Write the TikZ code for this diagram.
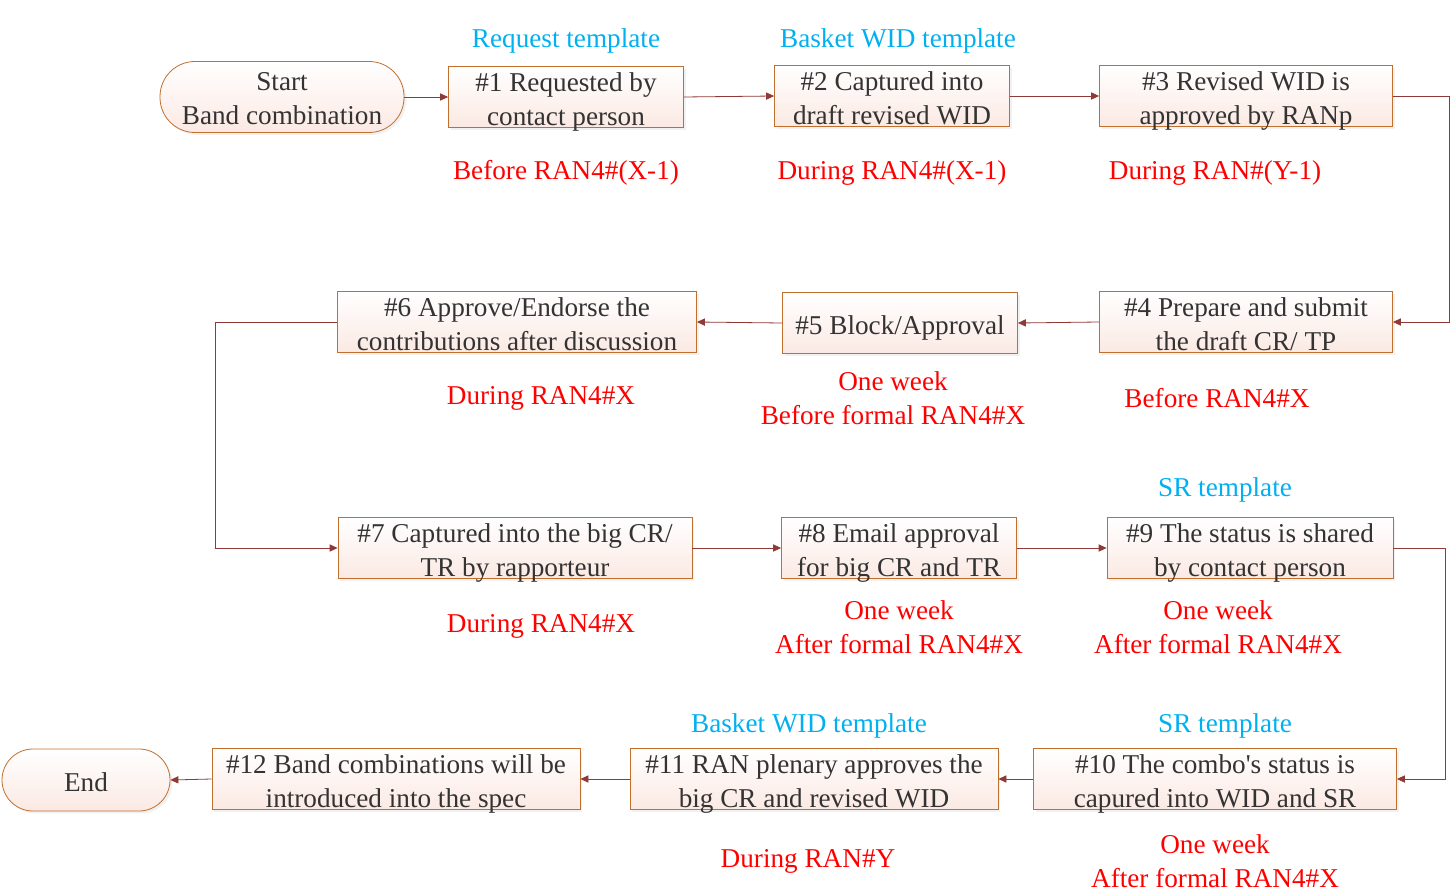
\documentclass[tikz,border=0pt]{standalone}
\usepackage{fontspec}
\setmainfont{Liberation Serif}
\usetikzlibrary{arrows.meta,shadows}
\definecolor{boxline}{HTML}{C0702E}
\definecolor{boxfill}{HTML}{FBE9E3}
\definecolor{flowline}{HTML}{8E3A36}
\definecolor{tmplblue}{HTML}{00B0F0}
\definecolor{textgray}{HTML}{333333}

\begin{document}
\begin{tikzpicture}[x=0.5pt,y=-0.5pt,
			every node/.style = {font=\fontsize{13.6}{17}\selectfont, align=center, inner sep=0pt},
			stepbox/.style = {shape=rectangle, draw=boxline, top color=white, bottom color=boxfill,
				text=textgray, minimum height=30.5pt, text height=29.5pt, text depth=1pt,
				drop shadow={shadow xshift=1.2pt, shadow yshift=-1.2pt, fill=black!10}},
			onebox/.style = {stepbox, text height=21pt, text depth=9.5pt},
			when/.style = {text=red, yshift=-1.5pt},
			tmpl/.style = {text=tmplblue, yshift=-1.5pt},
			flow/.style = {draw=flowline, -{Triangle[length=4pt,width=3.6pt]}}]
			\useasboundingbox[fill=white] (0,0) rectangle (1454,893);
			% first row
			\node[stepbox, rounded corners=17.5pt, minimum width=122pt, minimum height=35.5pt, text height=31.5pt, text depth=4pt] (start) at (282,97) {Start\\Band combination};
			\node[stepbox, minimum width=117.5pt] (s1) at (566,97) {\#1 Requested by\\contact person};
			\node[stepbox, minimum width=117.5pt] (s2) at (892,96) {\#2 Captured into\\draft revised WID};
			\node[stepbox, minimum width=146.5pt] (s3) at (1246,96) {\#3 Revised WID is\\approved by RANp};
			\node[tmpl] (t1) at (566,38) {Request template};
			\node[tmpl] (t2) at (898,38) {Basket WID template};
			\node[when] (w1) at (566,170) {Before RAN4\#(X-1)};
			\node[when] (w2) at (892,170) {During RAN4\#(X-1)};
			\node[when] (w3) at (1215,170) {During RAN\#(Y-1)};
			% second row
			\node[stepbox, minimum width=146.5pt] (s4) at (1246,322) {\#4 Prepare and submit\\the draft CR/ TP};
			\node[onebox, minimum width=117.5pt] (s5) at (900,323) {\#5 Block/Approval};
			\node[stepbox, minimum width=179.5pt] (s6) at (517,322) {\#6 Approve/Endorse the\\contributions after discussion};
			\node[when] (w6) at (541,395) {During RAN4\#X};
			\node[when] (w5) at (893,395) {One week\\Before formal RAN4\#X};
			\node[when] (w4) at (1217,395) {Before RAN4\#X};
			% third row
			\node[stepbox, minimum width=177pt] (s7) at (515,548) {\#7 Captured into the big CR/\\TR by rapporteur};
			\node[stepbox, minimum width=117.5pt] (s8) at (899,548) {\#8 Email approval\\for big CR and TR};
			\node[stepbox, minimum width=143pt] (s9) at (1250,548) {\#9 The status is shared\\by contact person};
			\node[tmpl] (t9) at (1225,487) {SR template};
			\node[when] (w7) at (541,623) {During RAN4\#X};
			\node[when] (w8) at (899,624) {One week\\After formal RAN4\#X};
			\node[when] (w9) at (1218,624) {One week\\After formal RAN4\#X};
			% fourth row
			\node[stepbox, minimum width=181.5pt] (s10) at (1215,779) {\#10 The combo\textquotesingle s status is\\capured into WID and SR};
			\node[stepbox, minimum width=184pt] (s11) at (814,779) {\#11 RAN plenary approves the\\big CR and revised WID};
			\node[stepbox, minimum width=184pt] (s12) at (396,779) {\#12 Band combinations will be\\introduced into the spec};
			\node[onebox, rounded corners=15.5pt, minimum width=84pt, minimum height=31pt] (end) at (86,780) {End};
			\node[tmpl] (t11) at (809,723) {Basket WID template};
			\node[tmpl] (t10) at (1225,723) {SR template};
			\node[when] (w11) at (808,858) {During RAN\#Y};
			\node[when] (w10) at (1215,858) {One week\\After formal RAN4\#X};
			% connectors
			\draw[flow] (start) -- (s1);
			\draw[flow] (s1.east) -- (s2.west);
			\draw[flow] (s2.east) -- (s3.west);
			\draw[flow] (s3.east) -- ([xshift=28pt]s3.east) |- (s4.east);
			\draw[flow] (s4.west) -- (s5.east);
			\draw[flow] (s5.west) -- (s6.east);
			\draw[flow] (s6.west) -- ([xshift=-61pt]s6.west) |- (s7.west);
			\draw[flow] (s7.east) -- (s8.west);
			\draw[flow] (s8.east) -- (s9.west);
			\draw[flow] (s9.east) -- ([xshift=26pt]s9.east) |- (s10.east);
			\draw[flow] (s10.west) -- (s11.east);
			\draw[flow] (s11.west) -- (s12.east);
			\draw[flow] (s12.west) -- (end.east);
		\end{tikzpicture}
\end{document}
